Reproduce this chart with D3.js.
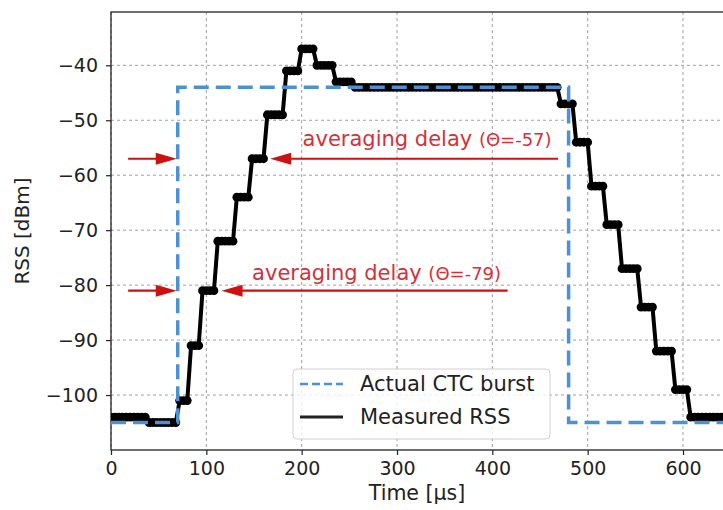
<!DOCTYPE html>
<html>
<head>
<meta charset="utf-8">
<script src="https://cdn.jsdelivr.net/npm/d3@7"></script>
<style>
  body { margin: 0; background: #fff; }
  svg { display: block; font-family: "DejaVu Sans", sans-serif; }
</style>
</head>
<body>
<svg id="chart"></svg>
<script>
// Measured RSS, one value per 4 µs sample, starting at t = 0
const samplePeriod = 4;
const rssValues = [
  -104, -104, -104, -104, -104, -104, -104, -104, -104, -104,
  -105, -105, -105, -105, -105, -105, -105, -105,
  -101, -101, -101,
  -91, -91, -91,
  -81, -81, -81, -81,
  -72, -72, -72, -72, -72,
  -64, -64, -64, -64,
  -57, -57, -57, -57,
  -49, -49, -49, -49, -49,
  -41, -41, -41, -41,
  -37, -37, -37, -37,
  -40, -40, -40, -40, -40,
  -43, -43, -43, -43, -43,
  -44, -44, -44, -44, -44, -44, -44, -44, -44, -44,
  -44, -44, -44, -44, -44, -44, -44, -44, -44, -44,
  -44, -44, -44, -44, -44, -44, -44, -44, -44, -44,
  -44, -44, -44, -44, -44, -44, -44, -44, -44, -44,
  -44, -44, -44, -44, -44, -44, -44, -44, -44, -44,
  -44, -44, -44, -44,
  -47, -47, -47, -47,
  -54, -54, -54, -54,
  -62, -62, -62, -62,
  -69, -69, -69, -69,
  -77, -77, -77, -77, -77,
  -84, -84, -84, -84,
  -92, -92, -92, -92, -92,
  -99, -99, -99, -99,
  -104, -104, -104, -104, -104, -104, -104, -104, -104
];

// Actual CTC burst (rectangular)
const burstTime = [0, 70, 70, 480, 480, 643];
const burstRss = [-105, -105, -44, -44, -105, -105];

const xTicks = [0, 100, 200, 300, 400, 500, 600];
const yTicks = [-100, -90, -80, -70, -60, -50, -40];

// averaging delay annotations (data units)
const delayLevels = [-57, -81];
const delayThetas = ['(Θ=-57)', '(Θ=-79)'];
const delayLeft = [[18, 69], [18, 69]];       // [tail, tip]
const delayRight = [[469, 167], [416, 116]];  // [tail, tip]
const delayText = [[201, -54.7], [148, -79.1]];

const width = 723, height = 510;
const plot = { left: 111, right: 724, top: 12, bottom: 450 };

const svg = d3.select('#chart')
  .attr('width', width)
  .attr('height', height);

const x = d3.scaleLinear().domain([0, 643]).range([plot.left, plot.right]);
const y = d3.scaleLinear().domain([-110, -30.3]).range([plot.bottom, plot.top]);

svg.append('defs').append('clipPath')
  .attr('id', 'clip')
  .append('rect')
  .attr('x', plot.left).attr('y', plot.top)
  .attr('width', plot.right - plot.left).attr('height', plot.bottom - plot.top);

// Grid
const grid = svg.append('g').attr('stroke', '#a0a0a0').attr('stroke-width', 1)
  .attr('stroke-dasharray', '3,3');
grid.selectAll('.gx').data(xTicks).enter().append('line')
  .attr('x1', d => x(d)).attr('x2', d => x(d))
  .attr('y1', plot.top).attr('y2', plot.bottom);
grid.selectAll('.gy').data(yTicks).enter().append('line')
  .attr('x1', plot.left).attr('x2', plot.right)
  .attr('y1', d => y(d)).attr('y2', d => y(d));

// Axes
const xAxis = svg.append('g')
  .attr('transform', `translate(0,${plot.bottom})`)
  .call(d3.axisBottom(x).tickValues(xTicks).tickSize(5).tickPadding(7));
const yAxis = svg.append('g')
  .attr('transform', `translate(${plot.left},0)`)
  .call(d3.axisLeft(y).tickValues(yTicks).tickSize(5).tickPadding(8));
[xAxis, yAxis].forEach(a => {
  a.select('.domain').remove();
  a.selectAll('text').attr('font-size', 19).attr('fill', '#222')
    .attr('font-family', '"DejaVu Sans", sans-serif');
  a.selectAll('line').attr('stroke', '#222').attr('stroke-width', 1.2);
});

// Frame
svg.append('rect')
  .attr('x', plot.left).attr('y', plot.top)
  .attr('width', plot.right - plot.left).attr('height', plot.bottom - plot.top)
  .attr('fill', 'none').attr('stroke', '#222').attr('stroke-width', 1.3);

// Axis labels
svg.append('text')
  .attr('x', (plot.left + 723) / 2).attr('y', 500)
  .attr('text-anchor', 'middle').attr('font-size', 20.5).attr('fill', '#222')
  .text('Time [µs]');
svg.append('text')
  .attr('transform', `translate(29,${(plot.top + plot.bottom) / 2}) rotate(-90)`)
  .attr('text-anchor', 'middle').attr('font-size', 20).attr('fill', '#222')
  .text('RSS [dBm]');

const plotArea = svg.append('g').attr('clip-path', 'url(#clip)');

// Measured RSS
const rss = rssValues.map((v, i) => [i * samplePeriod, v]);
plotArea.append('path')
  .datum(rss)
  .attr('fill', 'none')
  .attr('stroke', '#000')
  .attr('stroke-width', 4)
  .attr('stroke-linejoin', 'round')
  .attr('d', d3.line().x(d => x(d[0])).y(d => y(d[1])));
plotArea.selectAll('.pt').data(rss).enter().append('circle')
  .attr('cx', d => x(d[0])).attr('cy', d => y(d[1]))
  .attr('r', 4.4).attr('fill', '#000');

// Actual CTC burst
plotArea.append('path')
  .datum(burstTime.map((t, i) => [t, burstRss[i]]))
  .attr('fill', 'none')
  .attr('stroke', '#4b91d6')
  .attr('stroke-width', 3.5)
  .attr('stroke-dasharray', '15,7')
  .attr('d', d3.line().x(d => x(d[0])).y(d => y(d[1])));

// Annotations
const red = '#cc1111';
function arrow(g, x0, x1, yy) {
  const dir = Math.sign(x1 - x0);
  const len = 21, hw = 6;
  g.append('line')
    .attr('x1', x0).attr('x2', x1 - dir * len * 0.5)
    .attr('y1', yy).attr('y2', yy)
    .attr('stroke', red).attr('stroke-width', 2.2);
  g.append('path')
    .attr('d', `M${x1},${yy} L${x1 - dir * len},${yy - hw} L${x1 - dir * len},${yy + hw} Z`)
    .attr('fill', red);
}
const ann = svg.append('g');
delayLevels.forEach((lv, i) => {
  const yy = y(lv);
  arrow(ann, x(delayLeft[i][0]), x(delayLeft[i][1]), yy);
  arrow(ann, x(delayRight[i][0]), x(delayRight[i][1]), yy);
  const t = ann.append('text')
    .attr('x', x(delayText[i][0])).attr('y', y(delayText[i][1]))
    .attr('fill', '#d7303a').attr('font-size', 21);
  t.append('tspan').text('averaging delay ');
  t.append('tspan').attr('font-size', 18).text(delayThetas[i]);
});

// Legend
const lg = svg.append('g');
lg.append('rect')
  .attr('x', 293).attr('y', 369).attr('width', 257).attr('height', 70)
  .attr('rx', 4)
  .attr('fill', 'rgba(255,255,255,0.8)').attr('stroke', '#d0d0d0').attr('stroke-width', 1);
lg.append('line')
  .attr('x1', 300).attr('x2', 343).attr('y1', 384).attr('y2', 384)
  .attr('stroke', '#4b91d6').attr('stroke-width', 2.5).attr('stroke-dasharray', '8,4');
lg.append('line')
  .attr('x1', 300).attr('x2', 343).attr('y1', 417).attr('y2', 417)
  .attr('stroke', '#222').attr('stroke-width', 3);
lg.append('text').attr('x', 360).attr('y', 391)
  .attr('font-size', 21).attr('fill', '#222').text('Actual CTC burst');
lg.append('text').attr('x', 360).attr('y', 424)
  .attr('font-size', 21).attr('fill', '#222').text('Measured RSS');
</script>
</body>
</html>
